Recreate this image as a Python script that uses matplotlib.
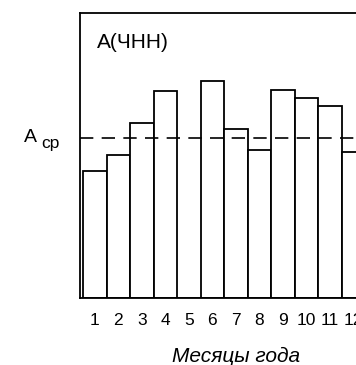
import matplotlib
matplotlib.use("Agg")
import matplotlib.pyplot as plt

months = list(range(1, 13))
month_labels = [str(m) for m in months]
values = [127, 143, 175, 207, 0, 217, 169, 148, 208, 200, 192, 146]
average = 160
y_max = 285

plt.rcParams['font.family'] = ['Liberation Sans', 'DejaVu Sans']

fig = plt.figure(figsize=(3.56, 3.65), dpi=100)
ax = fig.add_axes([80/356, 67/365, 287.4/356, 285/365])

ax.bar(months, values, width=1.0, facecolor='white', edgecolor='black', linewidth=1.3)
ax.axhline(average, color='black', linewidth=1.2, dashes=(8, 5))

ax.set_xlim(0.37, 12.6)
ax.set_ylim(0, y_max)
ax.set_xticks(months)
ax.set_xticklabels(month_labels, fontsize=12.5)
ax.tick_params(axis='x', length=0, pad=11)
ax.set_yticks([])
for s in ax.spines.values():
    s.set_linewidth(1.3)
ax.spines['right'].set_visible(False)

ax.text(0.06, 0.895, "A(ЧНН)", transform=ax.transAxes, fontsize=15, ha='left', va='center')
fig.text(24/356, 1 - 137/365, "A", fontsize=14, ha='left', va='center')
fig.text(41/356, 1 - 144/365, "ср", fontsize=12.5, ha='left', va='center')
fig.text(236/356, 1 - 356/365, "Месяцы года", fontsize=15, style='italic', ha='center', va='center')

fig.savefig("out.png", dpi=100)
